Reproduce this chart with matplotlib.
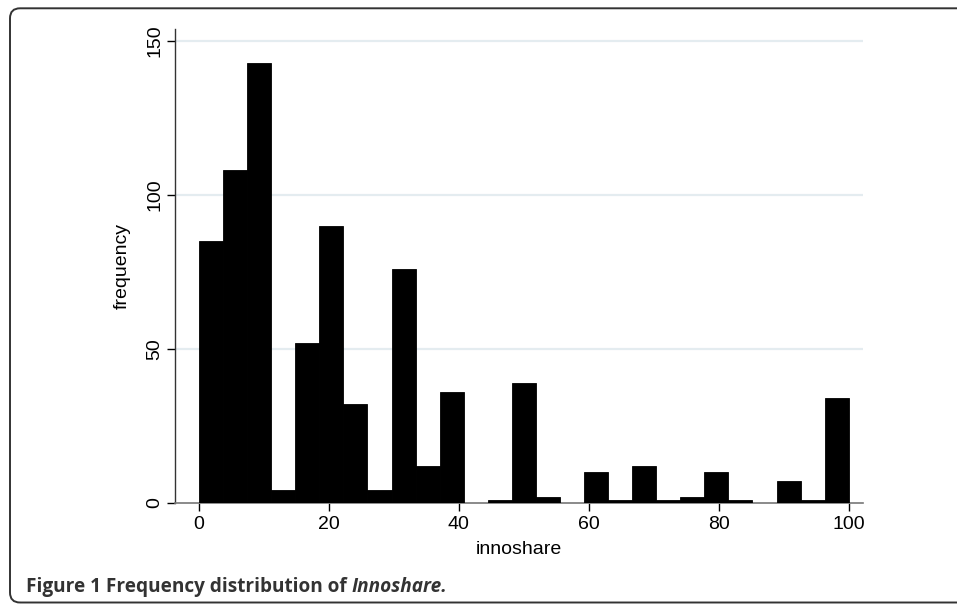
import numpy as np
import matplotlib.pyplot as plt
from matplotlib.patches import FancyBboxPatch
from matplotlib.transforms import IdentityTransform

# histogram of innoshare, 27 equal bins from 0 to 100
bin_lo = 0
bin_hi = 100
n_bins = 27
counts = [85, 108, 143, 4, 52, 90, 32, 4, 76, 12, 36, 0, 1, 39,
          2, 0, 10, 1, 12, 1, 2, 10, 1, 0, 7, 1, 34]
yticks = [0, 50, 100, 150]
xticks = [0, 20, 40, 60, 80, 100]

plt.rcParams['font.family'] = ['Liberation Sans', 'DejaVu Sans']

fig = plt.figure(figsize=(9.57, 6.04), dpi=100)
ax = fig.add_axes([175 / 957, 1 - 502.7 / 604, (863 - 175) / 957, (502.7 - 29) / 604])

edges = np.linspace(bin_lo, bin_hi, n_bins + 1)
ax.bar(edges[:-1], counts, width=np.diff(edges), align='edge',
       color='black', edgecolor='black', linewidth=0.6, zorder=3)

ax.set_xlim(-3.7, 102.2)
ax.set_ylim(0, 153.9)
ax.set_xticks(xticks)
ax.set_yticks(yticks)
ax.set_yticklabels([str(t) for t in yticks], rotation=90, va='center')

# light horizontal grid lines (not at zero)
for t in yticks[1:]:
    ax.axhline(t, color='#e4ecf0', linewidth=1.6, zorder=1)

for s in ['top', 'right']:
    ax.spines[s].set_visible(False)
ax.spines['left'].set_color('#333333')
ax.spines['bottom'].set_color('#777777')
ax.spines['left'].set_linewidth(1.0)
ax.spines['bottom'].set_linewidth(1.2)
ax.tick_params(axis='x', length=5.5, width=1, color='black', pad=4, labelsize=14)
ax.tick_params(axis='y', length=5.5, width=1, color='black', pad=3, labelsize=14)

ax.set_xlabel('innoshare', fontsize=14, labelpad=6)
ax.set_ylabel('frequency', fontsize=14, labelpad=11)

# caption with italic name
cap = fig.text(26 / 957, 1 - 592 / 604, 'Figure 1 Frequency distribution of ',
               fontsize=13.7, fontweight='bold', color='#333333', va='baseline',
               family=['Open Sans', 'DejaVu Sans'])
ax.annotate('Innoshare.', xy=(1, 0), xycoords=cap, va='bottom', ha='left',
            fontsize=13.7, fontweight='bold', fontstyle='italic', color='#333333',
            family=['Open Sans', 'DejaVu Sans'], annotation_clip=False)

# rounded frame around the figure
frame = FancyBboxPatch((10, 1.5), 1000, 595.7 - 1.5,
                       boxstyle='round,pad=0,rounding_size=10',
                       transform=IdentityTransform(), fill=False,
                       edgecolor='#333333', linewidth=1.4)
fig.patches.append(frame)

fig.savefig('out.png', dpi=100)
